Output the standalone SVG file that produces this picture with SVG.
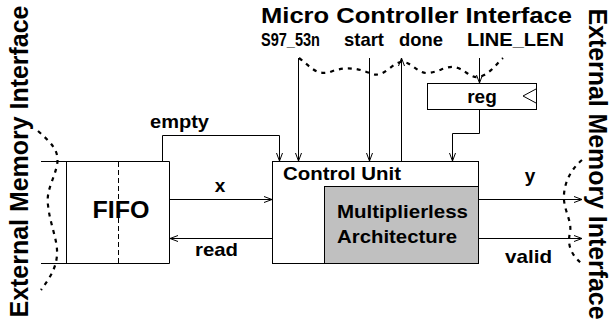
<svg xmlns="http://www.w3.org/2000/svg" width="613" height="327" viewBox="0 0 613 327">
<defs>
<marker id="ah" markerWidth="10" markerHeight="8" refX="9" refY="4" orient="auto" markerUnits="userSpaceOnUse">
<path d="M1,1 L9,4 L1,7" fill="none" stroke="#000" stroke-width="1"/>
</marker>
<style>
text{font-family:"Liberation Sans",Arial,sans-serif;font-weight:bold;fill:#000}
.ln{fill:none;stroke:#000;stroke-width:1}
.ar{fill:none;stroke:#000;stroke-width:1;marker-end:url(#ah)}
.dash{fill:none;stroke:#000;stroke-width:2.2;stroke-dasharray:4,5}
</style>
</defs>
<rect width="613" height="327" fill="#fff"/>
<g id="title"><text x="261" y="23" font-size="22" textLength="311" lengthAdjust="spacingAndGlyphs">Micro Controller Interface</text></g>
<g id="ext-left"><text transform="translate(28,161.5) rotate(-90)" text-anchor="middle" font-size="25" textLength="312" lengthAdjust="spacingAndGlyphs">External Memory Interface</text></g>
<g id="ext-right"><text transform="translate(589,164) rotate(90)" text-anchor="middle" font-size="25" textLength="311" lengthAdjust="spacingAndGlyphs">External Memory Interface</text></g>
<g id="boundaries">
<path class="dash" d="M299,58 C310,66 316,76 330,72 C345,66 358,68 372,74 C385,78 392,62 402,62 C412,62 418,74 428,73 C440,72 448,64 458,68 C468,72 472,80 482,76 C492,72 498,62 503,58"/>
<path class="dash" d="M38,131 C50,142 60,150 57,165 C54,180 46,190 48,205 C50,225 58,240 57,255 C56,270 48,280 41,290"/>
<path class="dash" d="M582,160 C570,170 563,185 564,200 C565,212 572,222 570,232 C568,242 568,252 582,264"/>
</g>
<g id="fifo">
<path class="ln" d="M41,161.5 H169.5 V263.5 H41 M66.5,161.5 V263.5"/>
<path class="ln" d="M118.5,162 V263" stroke-dasharray="5,3"/>
<text x="121" y="218" font-size="24" text-anchor="middle" textLength="57" lengthAdjust="spacingAndGlyphs">FIFO</text>
</g>
<g id="control-unit">
<rect x="272.5" y="161.5" width="206" height="102" fill="#fff" stroke="#000"/>
<text x="283" y="180" font-size="19" textLength="118" lengthAdjust="spacingAndGlyphs">Control Unit</text>
</g>
<g id="multiplierless">
<rect x="324.5" y="186.5" width="154" height="77" fill="#c0c0c0" stroke="#000"/>
<text x="337" y="218" font-size="19" textLength="131" lengthAdjust="spacingAndGlyphs">Multiplierless</text>
<text x="337" y="243" font-size="19" textLength="120" lengthAdjust="spacingAndGlyphs">Architecture</text>
</g>
<g id="reg">
<rect x="427.5" y="83.5" width="109" height="26" fill="#fff" stroke="#000"/>
<path class="ln" d="M536,89 L523,96 L536,103"/>
<text x="482" y="103" font-size="19" text-anchor="middle">reg</text>
</g>
<g id="connectors">
<path class="ar" d="M169.5,199.5 H272"/>
<path class="ar" d="M272.5,238.5 H170"/>
<path class="ar" d="M162.5,161 V135.5 H279.5 V161"/>
<path class="ar" d="M298.5,58 V161"/>
<path class="ar" d="M369.5,58 V161"/>
<path class="ar" d="M401.5,161 V58"/>
<path class="ar" d="M479.5,58 V83"/>
<path class="ar" d="M479.5,109.5 V133.5 H452.5 V161"/>
<path class="ar" d="M478.5,199.5 H582"/>
<path class="ar" d="M478.5,238.5 H582"/>
</g>
<g id="labels">
<text x="261" y="46" font-size="19" textLength="59" lengthAdjust="spacingAndGlyphs">S97_53n</text>
<text x="344" y="46" font-size="19" textLength="40" lengthAdjust="spacingAndGlyphs">start</text>
<text x="399" y="46" font-size="19" textLength="44" lengthAdjust="spacingAndGlyphs">done</text>
<text x="467" y="46" font-size="19" textLength="97" lengthAdjust="spacingAndGlyphs">LINE_LEN</text>
<text x="150" y="128" font-size="19" textLength="59" lengthAdjust="spacingAndGlyphs">empty</text>
<text x="220" y="192" font-size="19" text-anchor="middle">x</text>
<text x="195" y="256" font-size="19" textLength="43" lengthAdjust="spacingAndGlyphs">read</text>
<text x="530" y="182" font-size="19" text-anchor="middle">y</text>
<text x="505" y="263" font-size="19" textLength="47" lengthAdjust="spacingAndGlyphs">valid</text>
</g>
</svg>
